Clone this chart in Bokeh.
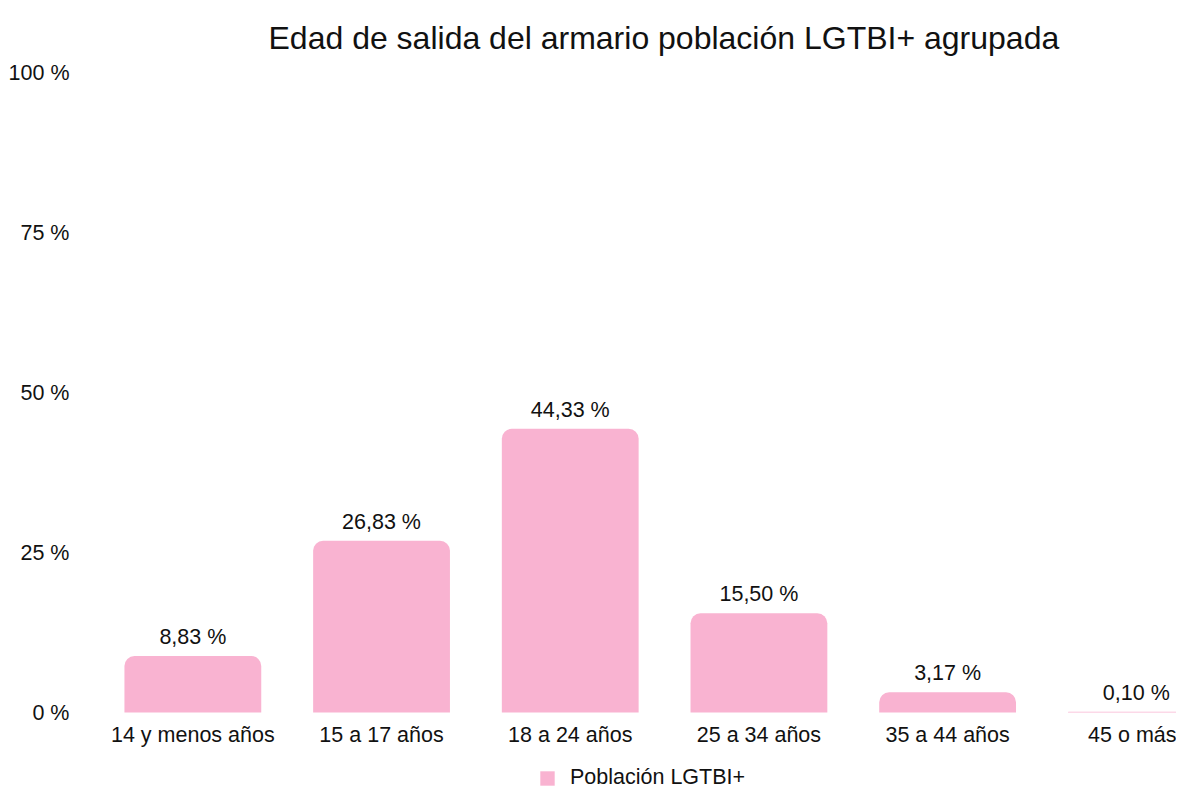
from bokeh.plotting import figure
from bokeh.models import Range1d, FixedTicker, ColumnDataSource, Legend, LegendItem, Title
from bokeh.core.properties import value as V
from bokeh.embed import file_html
from bokeh.resources import INLINE

categories = ["14 y menos años", "15 a 17 años", "18 a 24 años", "25 a 34 años", "35 a 44 años", "45 o más"]
values = [8.83, 26.83, 44.33, 15.50, 3.17, 0.10]
y_ticks = [0, 25, 50, 75, 100]
y_tick_labels = ["0 %", "25 %", "50 %", "75 %", "100 %"]
series_name = "Población LGTBI+"
title_text = "Edad de salida del armario población LGTBI+ agrupada"

FONT = "Liberation Sans"
PINK = "#F9B3D1"
TXT = "#111111"
FS = "21.5px"

xs = list(range(len(categories)))
labels = [f"{v:.2f}".replace(".", ",") + " %" for v in values]
src = ColumnDataSource(dict(x=xs, top=values, label=labels))

p = figure(frame_width=1078, frame_height=720, output_backend="svg", toolbar_location=None,
           x_range=Range1d(-0.5, 5.213), y_range=Range1d(-12.5, 100),
           min_border_left=98, min_border_right=0, min_border_top=71, min_border_bottom=0,
           outline_line_color=None)
p.title = Title(text=title_text, align="left", offset=170,
                text_font=FONT, text_font_size="32px", text_font_style="normal",
                text_color=TXT, standoff=34)

r = p.vbar(x="x", top="top", width=0.725, source=src, fill_color=PINK, line_color=None,
           border_radius=(10, 10, 0, 0))
p.text(x="x", y="top", text="label", source=src, text_align="center", text_baseline="bottom",
       y_offset=-7, text_font=V(FONT), text_font_size=FS, text_color=TXT)

p.xgrid.visible = False
p.ygrid.visible = False

xa = p.xaxis[0]
xa.fixed_location = 0
xa.ticker = FixedTicker(ticks=xs)
xa.major_label_overrides = {i: c for i, c in enumerate(categories)}
xa.axis_line_color = None
xa.major_tick_line_color = None
xa.minor_tick_line_color = None
xa.major_tick_out = 0
xa.major_label_text_font = FONT
xa.major_label_text_font_size = FS
xa.major_label_text_color = TXT
xa.major_label_standoff = 10

ya = p.yaxis[0]
ya.ticker = FixedTicker(ticks=y_ticks)
ya.major_label_overrides = {t: l for t, l in zip(y_ticks, y_tick_labels)}
ya.axis_line_color = None
ya.major_tick_line_color = None
ya.minor_tick_line_color = None
ya.major_tick_out = 0
ya.major_label_text_font = FONT
ya.major_label_text_font_size = FS
ya.major_label_text_color = TXT
ya.major_label_standoff = 29

legend = Legend(items=[LegendItem(label=series_name, renderers=[r])], location=(440, 2),
                orientation="horizontal", border_line_color=None, background_fill_alpha=0,
                label_text_font=FONT, label_text_font_size=FS, label_text_color=TXT,
                glyph_width=18, glyph_height=18, label_standoff=14,
                margin=0, padding=2)
p.add_layout(legend, "center")

open("out.html", "w").write(file_html(p, INLINE))
